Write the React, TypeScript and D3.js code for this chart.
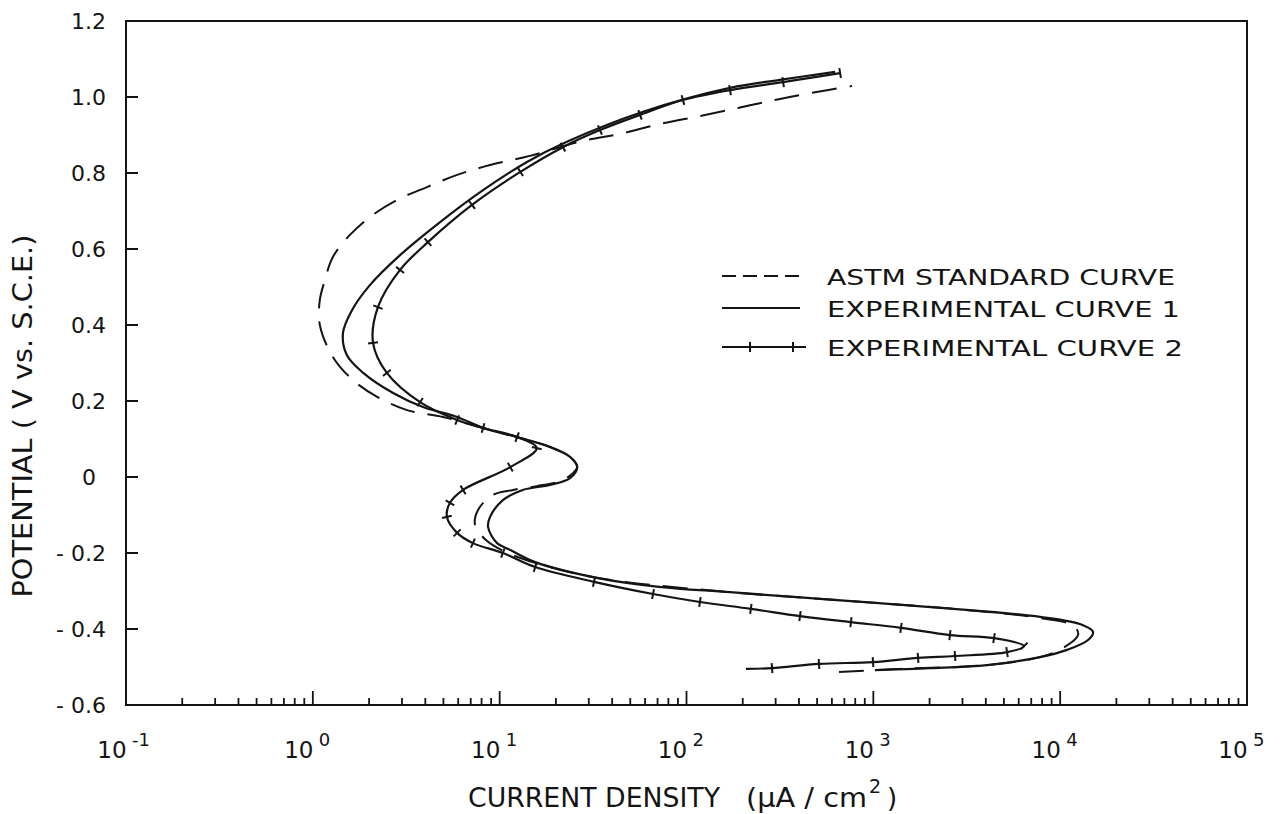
import React from "react";
import * as d3 from "d3";

// ---- data (potential in V vs SCE, current density in µA/cm²) ----
const astmPotential = [
  -0.513, -0.505, -0.495, -0.474, -0.45, -0.416, -0.392, -0.371, -0.345, -0.324, -0.303, -0.266,
  -0.226, -0.197, -0.166, -0.126, -0.087, -0.047, -0.034, -0.024, -0.011, 0.008, 0.026, 0.053,
  0.079, 0.105, 0.129, 0.158, 0.176, 0.211, 0.255, 0.316, 0.4, 0.466, 0.518, 0.579, 0.637, 0.684,
  0.729, 0.763, 0.795, 0.821, 0.845, 0.884, 0.903, 0.929, 0.95, 0.971, 0.992, 1.011, 1.029,
];
const astmCurrent = [
  655, 1390, 4055, 7800, 10350, 12470, 11860, 7800, 2388, 640, 171, 33.6,
  15.5, 10.7, 8.45, 7.38, 7.66, 9.2, 11.8, 15.8, 21.0, 24.4, 26.0, 23.8,
  18.6, 12.4, 8.15, 4.98, 3.19, 2.21, 1.64, 1.28, 1.09, 1.09, 1.16, 1.28, 1.58, 2.02,
  2.82, 4.08, 5.92, 8.88, 14.5, 27.6, 44.1, 72.1, 118, 189, 294, 470, 769,
];

const exp1Potential = [
  -0.508, -0.503, -0.495, -0.474, -0.455, -0.429, -0.408, -0.387, -0.368, -0.345, -0.324, -0.303,
  -0.289, -0.266, -0.224, -0.192, -0.174, -0.132, -0.105, -0.061, -0.034, -0.021, -0.003, 0.026,
  0.053, 0.079, 0.105, 0.129, 0.158, 0.184, 0.221, 0.274, 0.321, 0.379, 0.439, 0.505, 0.584,
  0.671, 0.755, 0.829, 0.882, 0.961, 1.024, 1.045, 1.066,
];
const exp1Current = [
  1020, 2010, 4055, 7800, 10890, 14100, 15000, 12760, 7800, 2388, 640, 171,
  71.3, 33.6, 15.5, 11.4, 9.68, 8.67, 8.88, 10.4, 13.3, 18.6, 23.8, 26.0,
  23.8, 18.6, 12.4, 8.15, 5.92, 3.89, 2.69, 1.86, 1.52, 1.45, 1.62, 2.02, 2.93,
  4.8, 8.15, 14.0, 22.9, 58.5, 171, 316, 624,
];

const exp2Potential = [
  -0.505, -0.503, -0.492, -0.487, -0.476, -0.471, -0.461, -0.445, -0.424, -0.416, -0.397,
  -0.382, -0.366, -0.347, -0.329, -0.308, -0.276, -0.237, -0.2, -0.174, -0.147, -0.105, -0.068,
  -0.034, 0.026, 0.076, 0.105, 0.129, 0.15, 0.197, 0.274, 0.353, 0.447, 0.545, 0.618, 0.716,
  0.803, 0.868, 0.913, 0.953, 0.992, 1.018, 1.039, 1.063,
];
const exp2Current = [
  208, 287, 512, 996, 1735, 2737, 5195, 6400, 4426, 2570, 1406,
  759, 405, 221, 118, 66.2, 32.0, 15.5, 10.4, 7.19, 5.92, 5.22, 5.42,
  6.37, 11.4, 15.8, 12.4, 8.15, 5.92, 3.75, 2.49, 2.1, 2.23, 2.93, 4.13, 7.11,
  12.9, 21.8, 34.4, 56.4, 95.7, 171, 329, 664,
];

const yTickValues = [1.2, 1.0, 0.8, 0.6, 0.4, 0.2, 0, -0.2, -0.4, -0.6];
const yTickLabels = ["1.2", "1.0", "0.8", "0.6", "0.4", "0.2", "0", "- 0.2", "- 0.4", "- 0.6"];
const xDecades = [-1, 0, 1, 2, 3, 4, 5];
const legendLabels = ["ASTM STANDARD CURVE", "EXPERIMENTAL CURVE 1", "EXPERIMENTAL CURVE 2"];
const xTitle = "CURRENT DENSITY";
const yTitle = "POTENTIAL ( V vs. S.C.E.)";

const W = 1280;
const H = 814;
const L = 126, R = 1247, T = 21, B = 705;
const INK = "#141414";
const FONT = "'DejaVu Sans', 'Liberation Sans', sans-serif";

export default function App() {
  const x = d3.scaleLog().domain([0.1, 1e5]).range([L, R]);
  const y = d3.scaleLinear().domain([-0.6, 1.2]).range([B, T]);

  const toPts = (ps: number[], cs: number[]) => ps.map((p, i) => [x(cs[i]), y(p)] as [number, number]);
  const line = d3.line<[number, number]>().x((d) => d[0]).y((d) => d[1]).curve(d3.curveCatmullRom.alpha(0.5));

  const astmPts = toPts(astmPotential, astmCurrent);
  const exp1Pts = toPts(exp1Potential, exp1Current);
  const exp2Pts = toPts(exp2Potential, exp2Current);

  const crossTicks = exp2Pts.slice(1).map((p, k) => {
    const i = k + 1;
    const a = exp2Pts[i - 1];
    const b = exp2Pts[Math.min(i + 1, exp2Pts.length - 1)];
    let dx = b[0] - a[0], dy = b[1] - a[1];
    const len = Math.hypot(dx, dy) || 1;
    dx /= len; dy /= len;
    const nx = -dy * 5, ny = dx * 5;
    return { x1: p[0] - nx, y1: p[1] - ny, x2: p[0] + nx, y2: p[1] + ny };
  });

  const minorTicks: number[] = [];
  for (let d = -1; d < 5; d++) for (let k = 2; k <= 9; k++) minorTicks.push(k * Math.pow(10, d));

  const legendY = [276, 308, 347];
  const legendTextEnd = [1175, 1180, 1183];

  return (
    <svg width={W} height={H} style={{ position: "absolute", left: 0, top: 0, background: "#fff" }} fontFamily={FONT}>
      <rect x={0} y={0} width={W} height={H} fill="#fff" />
      {/* frame */}
      <rect x={L} y={T} width={R - L} height={B - T} fill="none" stroke={INK} strokeWidth={2} />
      {/* y ticks */}
      {yTickValues.map((v, i) => (
        <g key={"y" + i}>
          {i > 0 && i < yTickValues.length - 1 && (
            <line x1={L} x2={L + 12} y1={y(v)} y2={y(v)} stroke={INK} strokeWidth={2} />
          )}
          <text
            x={yTickLabels[i] === "0" ? 89 : 106}
            y={y(v) + 8}
            fontSize={22}
            textAnchor={yTickLabels[i] === "0" ? "middle" : "end"}
            fill={INK}
          >
            {yTickLabels[i]}
          </text>
        </g>
      ))}
      {/* x ticks */}
      {minorTicks.map((v, i) => (
        <line key={"mx" + i} x1={x(v)} x2={x(v)} y1={B} y2={B - 7} stroke={INK} strokeWidth={1.8} />
      ))}
      {xDecades.map((d) => (
        <g key={"xd" + d}>
          {d > -1 && d < 5 && <line x1={x(Math.pow(10, d))} x2={x(Math.pow(10, d))} y1={B} y2={B - 14} stroke={INK} strokeWidth={1.8} />}
          <text x={x(Math.pow(10, d)) - 14} y={758} fontSize={23} textAnchor="middle" fill={INK}>
            10
          </text>
          <text x={x(Math.pow(10, d)) + 6} y={746} fontSize={18} textAnchor="start" fill={INK}>
            {d < 0 ? "-" + Math.abs(d) : String(d)}
          </text>
        </g>
      ))}
      {/* axis titles */}
      <text x={468} y={807} fontSize={26} textLength={252} lengthAdjust="spacingAndGlyphs" fill={INK}>
        {xTitle}
      </text>
      <text x={746} y={807} fontSize={26} fill={INK} textLength={121} lengthAdjust="spacingAndGlyphs">
        (µA / cm
      </text>
      <text x={869} y={793} fontSize={19} fill={INK}>2</text>
      <text x={887} y={807} fontSize={26} fill={INK}>)</text>
      <text
        transform={`translate(32,416) rotate(-90)`}
        x={0}
        y={0}
        fontSize={26}
        textAnchor="middle"
        textLength={363}
        lengthAdjust="spacingAndGlyphs"
        fill={INK}
      >
        {yTitle}
      </text>
      {/* curves */}
      <path d={line(astmPts) || ""} fill="none" stroke={INK} strokeWidth={2} strokeDasharray="25 13" />
      <path d={line(exp1Pts) || ""} fill="none" stroke={INK} strokeWidth={2.2} />
      <path d={line(exp2Pts) || ""} fill="none" stroke={INK} strokeWidth={2.2} />
      {crossTicks.map((t, i) => (
        <line key={"ct" + i} {...t} stroke={INK} strokeWidth={2} />
      ))}
      {/* legend */}
      {legendLabels.map((lab, i) => (
        <g key={"lg" + i}>
          <line
            x1={722}
            x2={i === 2 ? 806 : 800}
            y1={legendY[i]}
            y2={legendY[i]}
            stroke={INK}
            strokeWidth={2}
            strokeDasharray={i === 0 ? "14 7" : undefined}
          />
          {i === 2 && (
            <>
              <line x1={750} x2={750} y1={legendY[i] - 5} y2={legendY[i] + 5} stroke={INK} strokeWidth={2} />
              <line x1={793} x2={793} y1={legendY[i] - 5} y2={legendY[i] + 5} stroke={INK} strokeWidth={2} />
            </>
          )}
          <text
            x={827}
            y={legendY[i] + 9}
            fontSize={22}
            textLength={legendTextEnd[i] - 827}
            lengthAdjust="spacingAndGlyphs"
            fill={INK}
          >
            {lab}
          </text>
        </g>
      ))}
    </svg>
  );
}
